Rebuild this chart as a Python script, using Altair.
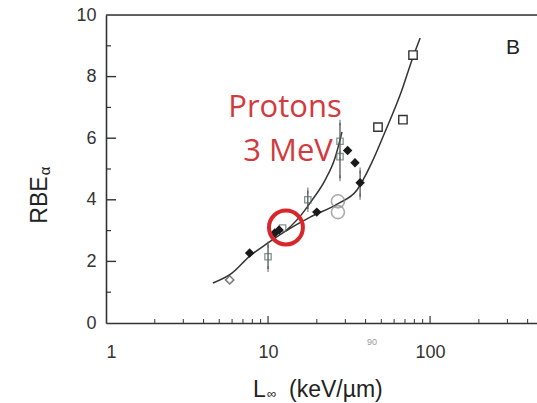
import altair as alt
import pandas as pd

# ---- data ----
curve_lo_x = [4.57, 5.99, 7.74, 10.0, 12.9, 18.2, 26.7, 35.4, 43.9, 52.7, 65.3, 78.5, 86.8]
curve_lo_y = [1.30, 1.62, 2.18, 2.60, 2.99, 3.44, 3.86, 4.32, 5.23, 6.20, 7.40, 8.64, 9.25]
curve_hi_x = [12.9, 15.8, 18.7, 22.5, 25.9, 28.6]
curve_hi_y = [2.99, 3.47, 3.99, 4.64, 5.36, 6.20]

star_x = [5.8]
star_y = [1.4]
filled_x = [7.7, 11.0, 11.7, 20.0, 31.0, 34.4, 37.0]
filled_y = [2.27, 2.92, 3.02, 3.6, 5.6, 5.2, 4.55]
open_x = [10.0, 12.3, 17.6, 27.8, 27.8]
open_y = [2.15, 3.08, 4.0, 5.9, 5.4]
err_x = [10.0, 17.6, 27.8, 27.8, 37.0]
err_lo = [1.75, 3.7, 5.5, 4.7, 4.1]
err_hi = [2.55, 4.3, 6.5, 5.4, 4.95]
ring_x = [27.0, 27.0]
ring_y = [3.95, 3.6]
square_x = [47.7, 68.0, 78.5]
square_y = [6.36, 6.6, 8.7]
highlight_x = [12.9]
highlight_y = [3.1]

x_minor = [2, 3, 4, 5, 6, 7, 8, 9, 20, 30, 40, 50, 60, 70, 80, 90, 200, 300, 400]
x_major = [10, 100]
y_major = [2, 4, 6, 8]
y_minor = [1, 3, 5, 7, 9]
x_labels = [1, 10, 100]
y_labels = [0, 2, 4, 6, 8, 10]

W, H = 431, 308
xs = alt.Scale(type="log", domain=[1, 457], nice=False)
ys = alt.Scale(domain=[0, 10], nice=False)
DARK = "#333333"

def X(f="x"):
    return alt.X(f"{f}:Q", scale=xs, title=None)

def Y(f="y"):
    return alt.Y(f"{f}:Q", scale=ys, title=None)

base_axes = alt.Chart(pd.DataFrame({"x": [1, 457], "y": [0, 10]})).mark_point(opacity=0).encode(
    x=alt.X("x:Q", scale=xs, title=None,
            axis=alt.Axis(values=x_labels, format="d", tickSize=0, labelPadding=20,
                          labelFontSize=18, labelColor="#333", labelFont="Liberation Sans",
                          domainColor=DARK, domainWidth=1.6, grid=False, title=None)),
    y=alt.Y("y:Q", scale=ys, title=None,
            axis=alt.Axis(values=y_labels, tickSize=0, labelPadding=10,
                          labelFontSize=18, labelColor="#333", labelFont="Liberation Sans",
                          domainColor=DARK, domainWidth=1.6, grid=False, title=None)),
)

top_line = alt.Chart(pd.DataFrame({"a": [0]})).mark_rule(color=DARK, strokeWidth=1.6).encode(
    x=alt.value(0), x2=alt.value(W), y=alt.value(0))

xminor = alt.Chart(pd.DataFrame({"x": x_minor})).mark_rule(color=DARK, strokeWidth=1).encode(
    x=X(), y=alt.value(H), y2=alt.value(H - 4))
xmajor = alt.Chart(pd.DataFrame({"x": x_major})).mark_rule(color=DARK, strokeWidth=1.2).encode(
    x=X(), y=alt.value(H), y2=alt.value(H - 7))
ymajor = alt.Chart(pd.DataFrame({"y": y_major})).mark_rule(color=DARK, strokeWidth=1.4).encode(
    y=Y(), x=alt.value(0), x2=alt.value(10))
yminor = alt.Chart(pd.DataFrame({"y": y_minor})).mark_rule(color=DARK, strokeWidth=1.2).encode(
    y=Y(), x=alt.value(0), x2=alt.value(5))

lo_df = pd.DataFrame({"x": curve_lo_x, "y": curve_lo_y, "o": range(len(curve_lo_x))})
hi_df = pd.DataFrame({"x": curve_hi_x, "y": curve_hi_y, "o": range(len(curve_hi_x))})
curve_lo = alt.Chart(lo_df).mark_line(color=DARK, strokeWidth=1.5, interpolate="monotone").encode(
    x=X(), y=Y(), order="o:Q")
curve_hi = alt.Chart(hi_df).mark_line(color=DARK, strokeWidth=1.5, interpolate="monotone").encode(
    x=X(), y=Y(), order="o:Q")

err_df = pd.DataFrame({"x": err_x, "lo": err_lo, "hi": err_hi})
err_bars = alt.Chart(err_df).mark_rule(color="#555", strokeWidth=1.3).encode(
    x=X(), y=Y("lo"), y2="hi:Q")
err_cap_lo = alt.Chart(err_df).mark_tick(color="#555", size=6, thickness=1.3).encode(x=X(), y=Y("lo"))
err_cap_hi = alt.Chart(err_df).mark_tick(color="#555", size=6, thickness=1.3).encode(x=X(), y=Y("hi"))

star = alt.Chart(pd.DataFrame({"x": star_x, "y": star_y})).mark_point(
    shape="diamond", filled=False, color="#444", size=70, strokeWidth=1.5).encode(x=X(), y=Y())
filled = alt.Chart(pd.DataFrame({"x": filled_x, "y": filled_y})).mark_point(
    shape="diamond", filled=True, color="#1a1a1a", size=90, opacity=1).encode(x=X(), y=Y())
opens = alt.Chart(pd.DataFrame({"x": open_x, "y": open_y})).mark_point(
    shape="square", filled=False, color="#4f6a66", size=40, strokeWidth=1.3).encode(x=X(), y=Y())
rings = alt.Chart(pd.DataFrame({"x": ring_x, "y": ring_y})).mark_point(
    shape="circle", filled=False, color="#888888", size=170, strokeWidth=1.6).encode(x=X(), y=Y())
squares = alt.Chart(pd.DataFrame({"x": square_x, "y": square_y})).mark_point(
    shape="square", filled=True, fill="white", stroke="#333", size=70, strokeWidth=1.4, opacity=1).encode(x=X(), y=Y())
highlight = alt.Chart(pd.DataFrame({"x": highlight_x, "y": highlight_y})).mark_point(
    shape="circle", filled=False, color="#d9262b", size=1150, strokeWidth=4, opacity=1).encode(x=X(), y=Y())

def label(text, x, y, **kw):
    return alt.Chart(pd.DataFrame({"t": [text]})).mark_text(**kw).encode(
        x=alt.value(x), y=alt.value(y), text="t:N")

protons = label("Protons", 179, 93, font="Open Sans", fontSize=31, color="#d23a40", align="center", baseline="middle")
mev = label("3 MeV", 182, 137, font="Open Sans", fontSize=31, color="#d23a40", align="center", baseline="middle")
panel = label("B", 407, 33, font="Liberation Sans", fontSize=21, color="#222", align="center", baseline="middle")
tiny = label("90", 266, 327, font="Liberation Sans", fontSize=9, color="#999", align="center", baseline="middle")

ytitle = label("RBE", -66, 185, font="Liberation Sans", fontSize=23, color="#222", angle=270,
               align="center", baseline="middle")
ytitle_sub = label("α", -61, 156, font="Liberation Sans", fontSize=15, color="#222", angle=270,
                   align="center", baseline="middle")
xt_L = label("L", 147, 382, font="Liberation Sans", fontSize=23, color="#222", align="left", baseline="alphabetic")
xt_inf = label("∞", 161, 383, font="Liberation Sans", fontSize=13, color="#222", align="left", baseline="alphabetic")
xt_rest = label("(keV/µm)", 183, 382, font="Liberation Sans", fontSize=23, color="#222", align="left", baseline="alphabetic")

chart = alt.layer(
    base_axes, top_line, xminor, xmajor, ymajor, yminor,
    curve_lo, curve_hi, err_bars, err_cap_lo, err_cap_hi,
    star, rings, opens, filled, squares, highlight,
    protons, mev, panel, tiny, ytitle, ytitle_sub, xt_L, xt_inf, xt_rest,
).properties(
    width=W, height=H,
    autosize=alt.AutoSizeParams(type="none"),
    padding={"left": 106, "top": 15, "right": 0, "bottom": 80},
).configure_view(stroke=None).configure(background="white")

chart.save("out.html", embed_options={"renderer": "svg", "actions": False})
